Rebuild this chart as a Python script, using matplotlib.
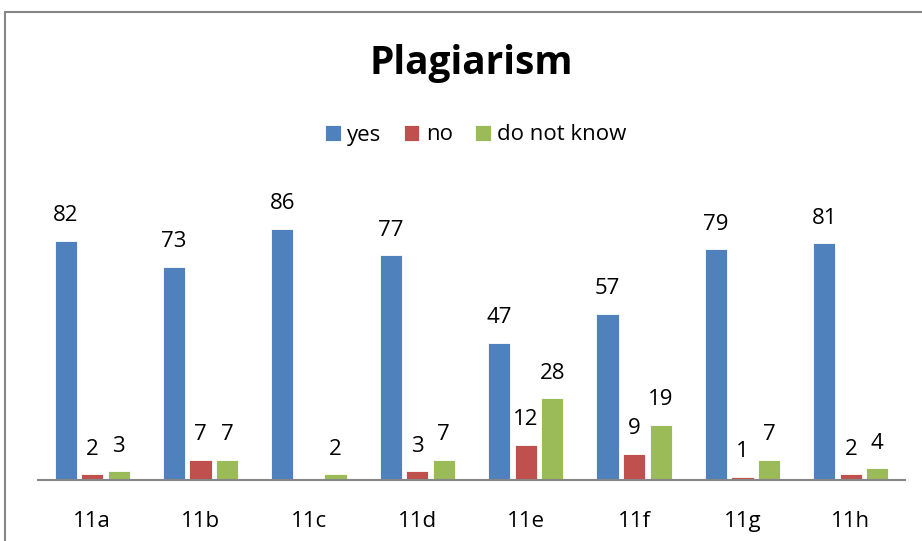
import matplotlib
matplotlib.use("Agg")
import matplotlib.pyplot as plt
from matplotlib.patches import Rectangle
import numpy as np

categories = ["11a", "11b", "11c", "11d", "11e", "11f", "11g", "11h"]
yes = [82, 73, 86, 77, 47, 57, 79, 81]
no = [2, 7, 0, 3, 12, 9, 1, 2]
dont_know = [3, 7, 2, 7, 28, 19, 7, 4]
series_names = ["yes", "no", "do not know"]
colors = ["#4F81BD", "#C0504D", "#9BBB59"]

plt.rcParams['font.family'] = ['Open Sans', 'DejaVu Sans']

W, H = 922, 541
fig = plt.figure(figsize=(W / 100, H / 100), dpi=100)
fig.patch.set_facecolor("white")

# outer chart border
fig.patches.append(Rectangle((5 / W, -0.05), 1.1, 1 - 12 / H + 0.05,
                             transform=fig.transFigure, fill=False,
                             edgecolor="#868686", linewidth=1.5))

ax = fig.add_axes([38 / W, (H - 480) / H, (905 - 38) / W, 292 / H])
x = np.arange(len(categories))
bw = 0.205
offs = [-0.245, 0.0, 0.245]
for data, off, c, name in zip([yes, no, dont_know], offs, colors, series_names):
    ax.bar(x + off, data, bw, color=c, edgecolor="white", linewidth=0.6, label=name)
    for xi, v in zip(x, data):
        if v > 0:
            ax.text(xi + off, v + 8.6, str(v), ha="center", va="center",
                    fontsize=16, color="black")

ax.set_xlim(-0.5, len(categories) - 0.5)
ax.set_ylim(0, 100)
for s in ["top", "right", "left"]:
    ax.spines[s].set_visible(False)
ax.spines["bottom"].set_color("#868686")
ax.spines["bottom"].set_linewidth(1.5)
ax.set_yticks([])
ax.set_xticks(x)
ax.set_xticklabels(categories, fontsize=16)
ax.tick_params(axis="x", length=0, pad=22)

fig.text(471 / W, 1 - 64 / H, "Plagiarism", ha="center", va="center",
         fontsize=28, fontweight="bold")
handles, labels = ax.get_legend_handles_labels()
fig.legend(handles, labels, loc="center", bbox_to_anchor=(476 / W, 1 - 135 / H),
           ncol=3, frameon=False, fontsize=16, handlelength=0.7, handleheight=0.7,
           handletextpad=0.3, columnspacing=1.0)

fig.savefig("out.png", dpi=100)
